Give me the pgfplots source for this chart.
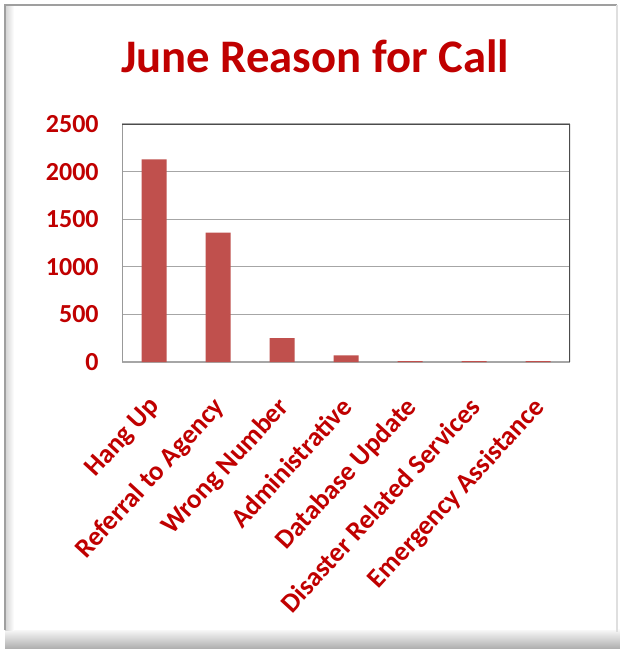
\documentclass[border=0pt]{standalone}
\usepackage{pgfplots}
\pgfplotsset{compat=1.18}
\usepackage{fontspec}
\setmainfont{Carlito}
\definecolor{titlered}{HTML}{C00000}
\definecolor{barred}{HTML}{C0504D}
\begin{document}
\begin{tikzpicture}
\def\u{0.75pt}
\path (0,0) rectangle (620*\u,-649*\u);
% frame and shadow
\shade[top color=white, bottom color=gray!65] (5*\u,-628*\u) rectangle (620*\u,-649*\u);
\fill[white] (5*\u,-5*\u) rectangle (617*\u,-630*\u);
\shade[left color=gray!35, right color=white] (5*\u,-5*\u) rectangle (14*\u,-630*\u);
\draw[gray!75, line width=1.5pt] (5*\u,-630*\u) -- (5*\u,-5*\u) -- (617*\u,-5*\u);
\draw[gray!25, line width=1.5pt] (617*\u,-5*\u) -- (617*\u,-632*\u);
% title
\node[font=\fontsize{35}{40}\selectfont\bfseries, text=titlered, anchor=base] at (315*\u,-73*\u) {June Reason for Call};
\begin{axis}[
  at={(122*\u,-362*\u)}, anchor=south west,
  scale only axis, width=336pt, height=178.5pt,
  xmin=-0.5, xmax=6.5, ymin=0, ymax=2500,
  ytick={0,500,1000,1500,2000,2500},
  xtick=data,
  xticklabels={Hang Up,Referral to Agency,Wrong Number,Administrative,Database Update,Disaster Related Services,Emergency Assistance},
  ymajorgrids, grid style={gray!70, line width=0.9pt},
  axis line style={draw=none},
  major tick length=0,
  scaled ticks=false,
  /pgf/number format/1000 sep={},
  /pgf/number format/assume math mode=true,
  tick label style={font=\fontsize{19.5}{21}\selectfont\bfseries, text=titlered},
  yticklabel style={xshift=-14pt},
  xticklabel style={font=\fontsize{20.3}{22}\selectfont\bfseries, xshift=-5pt, yshift=-20pt, rotate=47.4, anchor=north east},
  ybar, bar width=18.75pt,
]
\addplot[fill=barred, draw=none] coordinates {(0,2128) (1,1358) (2,250) (3,70) (4,10) (5,9) (6,9)};
\draw[gray!80, line width=0.9pt] (rel axis cs:0,0) -- (rel axis cs:0,1);
\draw[black!70, line width=1.1pt] (rel axis cs:0,1) -- (rel axis cs:1,1) -- (rel axis cs:1,0);
\end{axis}
\end{tikzpicture}
\end{document}
